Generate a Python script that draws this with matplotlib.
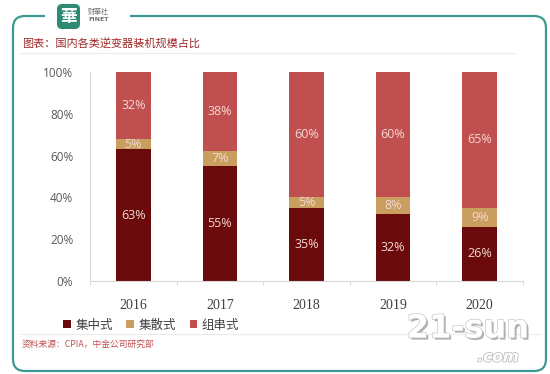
import matplotlib
matplotlib.use('Agg')
import matplotlib.pyplot as plt
from matplotlib.patches import FancyBboxPatch, Rectangle
from matplotlib.lines import Line2D
import matplotlib.patheffects as pe

# ---- data ----
years = ['2016', '2017', '2018', '2019', '2020']
centralized = [63, 55, 35, 32, 26]
distributed = [5, 7, 5, 8, 9]
string_type = [32, 38, 60, 60, 65]
series_names = ['集中式', '集散式', '组串式']
colors = ['#6A0A0A', '#C99E5F', '#C0504F']
yticks = [0, 20, 40, 60, 80, 100]
title = '图表：国内各类逆变器装机规模占比'
source = '资料来源：CPIA，中金公司研究部'

CJK = ['Noto Sans CJK SC', 'DejaVu Sans']
plt.rcParams['font.family'] = CJK

W, H = 550, 374
fig = plt.figure(figsize=(W / 100, H / 100), dpi=100)

# background / decoration axes in pixel coordinates
bg = fig.add_axes([0, 0, 1, 1])
bg.set_xlim(0, W)
bg.set_ylim(H, 0)
bg.axis('off')

frame = FancyBboxPatch((13, 16), 533, 355, boxstyle='round,pad=0,rounding_size=12',
                       fill=False, edgecolor='#3E9A90', linewidth=1.6)
bg.add_patch(frame)
bg.add_patch(Rectangle((45, 8), 85, 16, facecolor='white', edgecolor='none', zorder=3))
# logo
bg.add_patch(FancyBboxPatch((57, 4), 23, 25, boxstyle='round,pad=0,rounding_size=5',
                            facecolor='#2E8A72', edgecolor='none', zorder=4))
bg.text(68.5, 16.5, '華', color='white', fontsize=12, ha='center', va='center',
        fontweight='bold', family=CJK, zorder=5)
bg.text(88, 12, '财華社', color='#707070', fontsize=5, ha='left', va='center', family=CJK, zorder=5)
bg.text(88, 19.5, 'FINET', color='#707070', fontsize=4.5, ha='left', va='center',
        family=['DejaVu Sans'], fontweight='bold', zorder=5)

bg.text(22, 43, title, color='#A02828', fontsize=8, ha='left', va='center', family=CJK)
bg.add_line(Line2D([20, 515], [53, 53], color='#EBEBEB', linewidth=0.8))
bg.add_line(Line2D([20, 540], [334, 334], color='#EBEBEB', linewidth=0.8))
bg.text(22, 344, source, color='#C0504F', fontsize=6.3, ha='left', va='center', family=CJK)

# watermark
bg.text(468, 329, '21-sun', color='white', fontsize=23, fontweight='bold', ha='center', va='center',
        family=['DejaVu Sans'], zorder=6,
        path_effects=[pe.withSimplePatchShadow(offset=(1.5, -1.5), shadow_rgbFace='#9A9A9A', alpha=0.8),
                      pe.withStroke(linewidth=1, foreground='#C8C8C8')])
bg.text(498, 357, '.com', color='white', fontsize=11, fontstyle='italic', fontweight='bold',
        ha='center', va='center', family=['DejaVu Sans'], zorder=6,
        path_effects=[pe.withStroke(linewidth=1.2, foreground='#BDBDBD')])

# ---- chart ----
ax = fig.add_axes([90 / W, 1 - 281 / H, 433 / W, 209 / H])
ax.patch.set_alpha(0)
x = list(range(len(years)))
bw = 0.40
bottoms = [0] * len(years)
bars = []
for vals, name, c in zip([centralized, distributed, string_type], series_names, colors):
    b = ax.bar(x, vals, bw, bottom=bottoms, color=c, label=name, zorder=2)
    bars.append(b)
    for xi, v, bt in zip(x, vals, bottoms):
        ax.text(xi, bt + v / 2, f'{v}%', ha='center', va='center', color='#F4D8D4',
                fontsize=9, family=['Open Sans'], zorder=3)
    bottoms = [bt + v for bt, v in zip(bottoms, vals)]

ax.set_xlim(-0.5, len(years) - 0.5)
ax.set_ylim(0, 100)
ax.set_yticks(yticks)
ax.set_yticklabels([f'{t}%' for t in yticks], family=['Open Sans'], fontsize=8.5, color='#595959')
ax.set_xticks(x)
ax.set_xticklabels(years, family=['Liberation Serif'], fontsize=10, color='#404040')
ax.set_xticks([i - 0.5 for i in range(len(years) + 1)], minor=True)
ax.tick_params(axis='x', which='major', length=0, pad=13)
ax.tick_params(axis='x', which='minor', length=3, color='#D0D0D0', direction='out')
ax.tick_params(axis='y', length=0, pad=12)
for s in ['top', 'right']:
    ax.spines[s].set_visible(False)
ax.spines['left'].set_color('#D9D9D9')
ax.spines['bottom'].set_color('#D9D9D9')

leg = fig.legend(handles=bars, labels=series_names, loc='center left',
                 bbox_to_anchor=(52 / W, 1 - 325 / H), ncol=3, frameon=False,
                 handlelength=0.6, handleheight=0.6, handletextpad=0.35, columnspacing=1.1,
                 prop={'family': CJK, 'size': 9}, labelcolor='#404040')

fig.savefig('out.png', dpi=100)
